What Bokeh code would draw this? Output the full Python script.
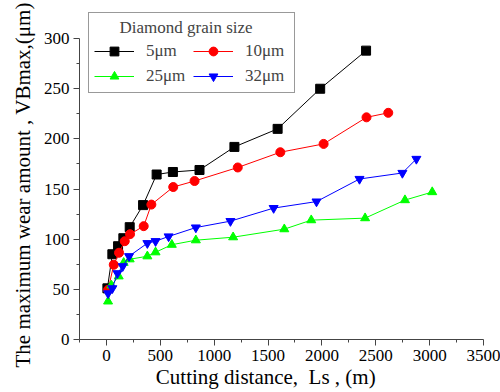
from bokeh.plotting import figure
from bokeh.models import Legend, LegendItem, FixedTicker, Range1d, Title
from bokeh.embed import file_html
from bokeh.resources import INLINE

x5 = [9, 55, 108, 157, 216, 340, 466, 617, 864, 1188, 1589, 1984, 2410]
y5 = [51, 85, 93, 101, 112, 134, 164.5, 167, 169, 192, 210, 250, 288]
x10 = [15, 68, 117, 170, 219, 346, 417, 620, 818, 1219, 1614, 2016, 2414, 2616]
y10 = [49.5, 74.5, 86.5, 98, 105, 113, 134.5, 152, 158, 171.5, 186.7, 195, 221.5, 226]
x25 = [15, 46, 114, 160, 216, 380, 456, 607, 830, 1176, 1651, 1901, 2401, 2771, 3024]
y25 = [38, 54, 63, 76.5, 80, 83, 87, 94.5, 99, 102, 110, 119, 121, 139, 147]
x32 = [15, 55, 102, 151, 210, 380, 456, 577, 830, 1151, 1552, 1950, 2349, 2747, 2877]
y32 = [46, 51, 66, 73, 83, 96, 98, 102.7, 111.6, 118, 131, 137.5, 160, 166, 180]

labels = ["5\u03bcm", "10\u03bcm", "25\u03bcm", "32\u03bcm"]
colors = ["black", "red", "#00ff00", "blue"]
markers = ["square", "circle", "triangle", "inverted_triangle"]

x_ticks = [0, 500, 1000, 1500, 2000, 2500, 3000, 3500]
y_ticks = [0, 50, 100, 150, 200, 250, 300]

FONT = "Liberation Serif"

p = figure(width=500, height=392, output_backend="svg", toolbar_location=None,
           x_range=Range1d(-250, 3500), y_range=Range1d(0, 330),
           min_border_left=79, min_border_right=17, min_border_top=8, min_border_bottom=53)
p.outline_line_color = None
p.xgrid.visible = False
p.ygrid.visible = False

rends = {}
for xs, ys, c, m, lab in zip([x5, x10, x25, x32], [y5, y10, y25, y32], colors, markers, labels):
    l1 = p.line(xs, ys, line_color=c, line_width=1)
    # smaller markers (hidden beneath the big ones) used for the legend swatches
    l2 = p.scatter(xs, ys, marker=m, size=6, fill_color=c, line_color=c)
    p.scatter(xs, ys, marker=m, size=9, fill_color=c, line_color=c)
    rends[lab] = [l1, l2]

for ax in (p.xaxis[0], p.yaxis[0]):
    ax.axis_line_color = "#444444"
    ax.major_tick_line_color = "#444444"
    ax.minor_tick_line_color = "#444444"
    ax.major_tick_out = 6
    ax.major_tick_in = 0
    ax.minor_tick_out = 3
    ax.minor_tick_in = 0
    ax.major_label_text_font = FONT
    ax.major_label_text_font_size = "17px"
    ax.major_label_text_color = "black"
    ax.axis_label_text_font = FONT
    ax.axis_label_text_font_size = "21px"
    ax.axis_label_text_font_style = "normal"
    ax.axis_label_text_color = "black"

p.yaxis[0].bounds = (0, 300)
p.xaxis[0].ticker = FixedTicker(ticks=x_ticks,
                                minor_ticks=[-250, 250, 750, 1250, 1750, 2250, 2750, 3250])
p.yaxis[0].ticker = FixedTicker(ticks=y_ticks,
                                minor_ticks=[25, 75, 125, 175, 225, 275])
p.xaxis[0].axis_label = "Cutting distance,\u00a0 Ls , (m)" + "\u00a0" * 6
p.xaxis[0].axis_label_standoff = 1
p.xaxis[0].major_label_standoff = 4
p.yaxis[0].major_label_standoff = 4

ytitle = Title(text="The maximum wear amount , VBmax,(\u03bcm)", align="left", offset=-28,
               vertical_align="top",
               text_font=FONT, text_font_size="21px", text_font_style="normal",
               text_color="black", standoff=8)
p.add_layout(ytitle, "left")

order = [labels[0], labels[2], labels[1], labels[3]]
items = [LegendItem(label=l, renderers=rends[l]) for l in order]
legend = Legend(items=items, ncols=2, location=(9, 246),
                title="\u00a0\u00a0\u00a0\u00a0\u00a0\u00a0Diamond grain size",
                title_text_font=FONT, title_text_font_size="17px", title_text_font_style="normal",
                title_standoff=2,
                label_text_font=FONT, label_text_font_size="17px",
                border_line_color="#333333", border_line_width=1,
                glyph_width=40, glyph_height=22, label_height=22, label_width=44,
                spacing=3, padding=5, margin=0,
                label_standoff=12, background_fill_alpha=1)
p.add_layout(legend, "center")

open("out.html", "w").write(file_html(p, INLINE))
